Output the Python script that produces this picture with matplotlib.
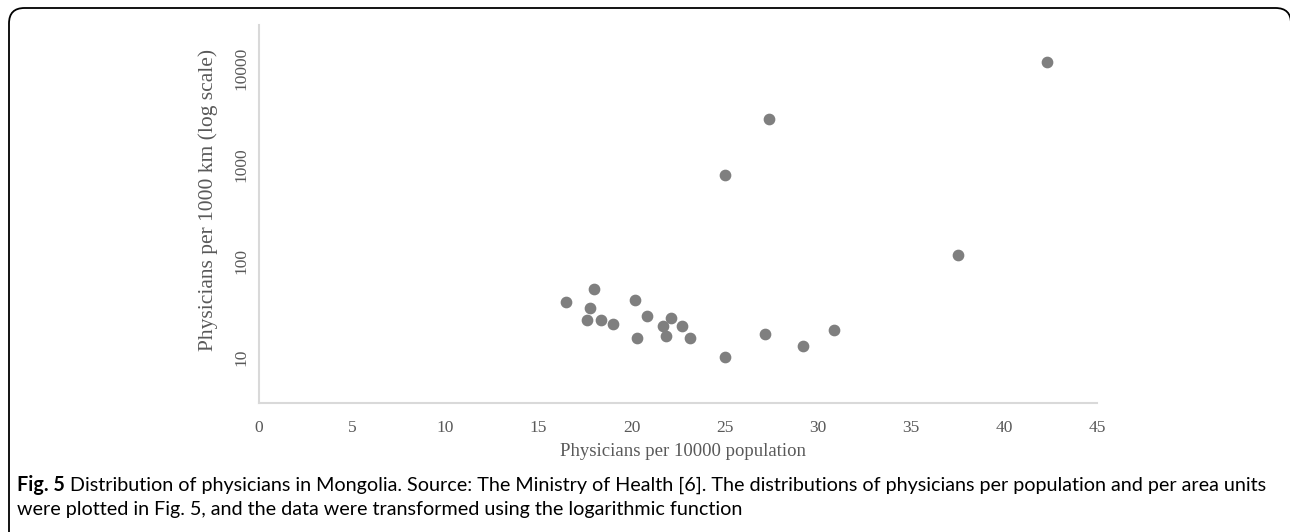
import numpy as np
import matplotlib
matplotlib.use("Agg")
import matplotlib.pyplot as plt
from matplotlib.patches import FancyBboxPatch

# data
per_pop = [16.5, 18.0, 17.8, 17.6, 18.35, 19.0, 20.2, 20.85, 20.3, 21.7, 22.15,
           21.85, 22.7, 23.15, 25.0, 27.15, 29.2, 30.9, 25.0, 27.4, 37.55, 42.3]
per_area = [37.2, 50.4, 32.5, 24.2, 24.2, 22.0, 39.3, 26.6, 15.6, 21.0, 25.4,
            16.4, 21.0, 15.6, 10.1, 17.2, 12.9, 19.1, 780, 2950, 114, 11500]
xticks = [0, 5, 10, 15, 20, 25, 30, 35, 40, 45]
yticks = [10, 100, 1000, 10000]

W, H = 1290, 532
fig = plt.figure(figsize=(W / 100, H / 100), dpi=100)

# rounded frame around the figure (cut off at right and bottom)
frame = FancyBboxPatch((9 / W, -20 / H), (1291 - 9) / W, (H + 20 - 8) / H,
                       boxstyle="round,pad=0,rounding_size=0.012",
                       transform=fig.transFigure, fill=False,
                       edgecolor="black", linewidth=1.3, mutation_aspect=W / H)
fig.patches.append(frame)

ax = fig.add_axes([259 / W, 1 - 403 / H, (1097 - 259) / W, (403 - 25) / H])
ax.scatter(per_pop, per_area, s=55, color="#7f7f7f", zorder=3)

ax.set_yscale("log")
ax.set_xlim(0, 45)
ax.set_ylim(10 ** 0.522, 10 ** 4.446)
ax.set_xticks(xticks)
ax.set_xticklabels([str(t) for t in xticks])
ax.set_yticks(yticks)
ax.set_yticklabels([str(t) for t in yticks], rotation=90, va="center")
ax.yaxis.set_minor_locator(matplotlib.ticker.NullLocator())

serif = "Liberation Serif"
grey = "#595959"
ax.tick_params(length=0, labelsize=12.5, labelcolor=grey)
ax.tick_params(axis="x", pad=12)
ax.tick_params(axis="y", pad=7)
for lab in ax.get_xticklabels() + ax.get_yticklabels():
    lab.set_family(serif)

for s in ["top", "right"]:
    ax.spines[s].set_visible(False)
for s in ["left", "bottom"]:
    ax.spines[s].set_color("#d9d9d9")
    ax.spines[s].set_linewidth(1.5)

fig.text(683 / W, 1 - 452 / H, "Physicians per 10000 population", family=serif,
         fontsize=13.5, color=grey, ha="center", va="center")
fig.text(208 / W, 1 - 200 / H, "Physicians per 1000 km (log scale)", family=serif,
         fontsize=15.5, color=grey, ha="center", va="center", rotation=90)

# caption with bold "Fig. 5"
cap_font = "Lato"
cap_size = 14.2
renderer = fig.canvas.get_renderer()
t1 = fig.text(17 / W, 1 - 485 / H, "Fig. 5", family=cap_font, fontsize=cap_size,
              weight="bold", ha="left", va="center")
bb = t1.get_window_extent(renderer)
fig.text((bb.x1 + 5) / W, 1 - 485 / H,
         "Distribution of physicians in Mongolia. Source: The Ministry of Health [6]. "
         "The distributions of physicians per population and per area units",
         family=cap_font, fontsize=cap_size, ha="left", va="center")
fig.text(17 / W, 1 - 510 / H,
         "were plotted in Fig. 5, and the data were transformed using the logarithmic function",
         family=cap_font, fontsize=cap_size, ha="left", va="center")

fig.savefig("out.png", dpi=100)
